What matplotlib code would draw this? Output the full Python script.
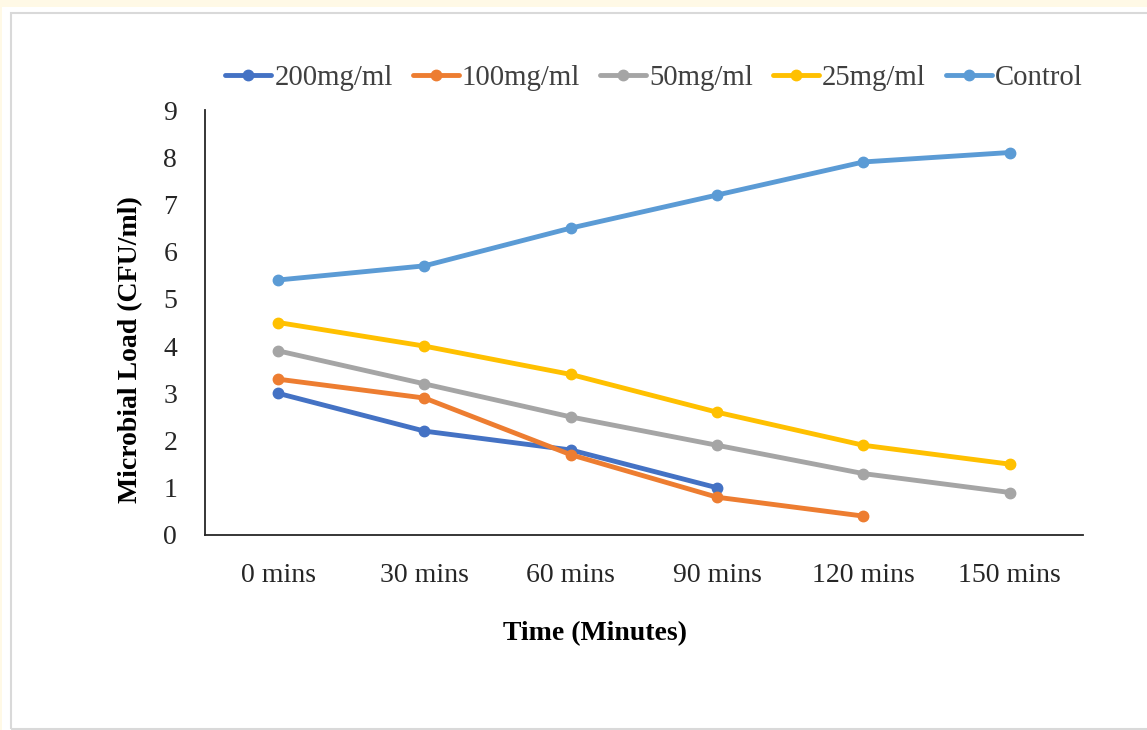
import matplotlib
matplotlib.use('Agg')
import matplotlib.pyplot as plt
from matplotlib.patches import Rectangle

# data
times = ['0 mins', '30 mins', '60 mins', '90 mins', '120 mins', '150 mins']
load_200 = [3.0, 2.2, 1.8, 1.0]
load_100 = [3.3, 2.9, 1.7, 0.8, 0.4]
load_50 = [3.9, 3.2, 2.5, 1.9, 1.3, 0.9]
load_25 = [4.5, 4.0, 3.4, 2.6, 1.9, 1.5]
load_ctrl = [5.4, 5.7, 6.5, 7.2, 7.9, 8.1]

series = [
    ('200mg/ml', load_200, '#4472C4'),
    ('100mg/ml', load_100, '#ED7D31'),
    ('50mg/ml', load_50, '#A5A5A5'),
    ('25mg/ml', load_25, '#FFC000'),
    ('Control', load_ctrl, '#5B9BD5'),
]

plt.rcParams['font.family'] = 'Liberation Serif'
plt.rcParams['font.size'] = 20

W, H = 1147, 730
fig = plt.figure(figsize=(W / 100, H / 100), dpi=100)
fig.patch.set_facecolor('white')

# page background: cream strips and the grey chart frame
fig.patches.append(Rectangle((0, 1 - 7 / H), 1, 7 / H, transform=fig.transFigure,
                             facecolor='#FFF9E6', edgecolor='none', zorder=0))
fig.patches.append(Rectangle((0, 0), 2 / W, 1, transform=fig.transFigure,
                             facecolor='#FFF9E6', edgecolor='none', zorder=0))
fig.patches.append(Rectangle((11 / W, 1 / H), 1.0, (H - 14) / H, transform=fig.transFigure,
                             facecolor='none', edgecolor='#D9D9D9', linewidth=1.5, zorder=1))

ax = fig.add_axes([205 / W, (H - 535) / H, 878 / W, 425 / H])
ax.set_facecolor('none')

for name, vals, col in series:
    ax.plot(range(len(vals)), vals, color=col, linewidth=3.5, marker='o',
            markersize=7.5, label=name, solid_capstyle='round')

ax.set_xlim(-0.5, len(times) - 0.5)
ax.set_ylim(0, 9)
ax.set_xticks(range(len(times)))
ax.set_xticklabels(times)
ax.set_yticks(range(0, 10))
ax.tick_params(axis='both', length=0, colors='#262626')
ax.tick_params(axis='x', pad=20)
ax.tick_params(axis='y', pad=20)

for s in ['top', 'right']:
    ax.spines[s].set_visible(False)
for s in ['left', 'bottom']:
    ax.spines[s].set_color('#262626')
    ax.spines[s].set_linewidth(1.3)

fig.text(595 / W, (H - 634) / H, 'Time (Minutes)', ha='center', va='center',
         fontsize=20, fontweight='bold')
fig.text(131 / W, (H - 350) / H, 'Microbial Load (CFU/ml)', ha='center', va='center',
         rotation=90, fontsize=20, fontweight='bold')

leg = fig.legend(loc='center', bbox_to_anchor=(654 / W, (H - 78) / H), ncol=5,
                 frameon=False, handlelength=1.6, handletextpad=0.1,
                 columnspacing=0.7, fontsize=20.7, labelcolor='#404040')

fig.savefig('out.png', dpi=100)
